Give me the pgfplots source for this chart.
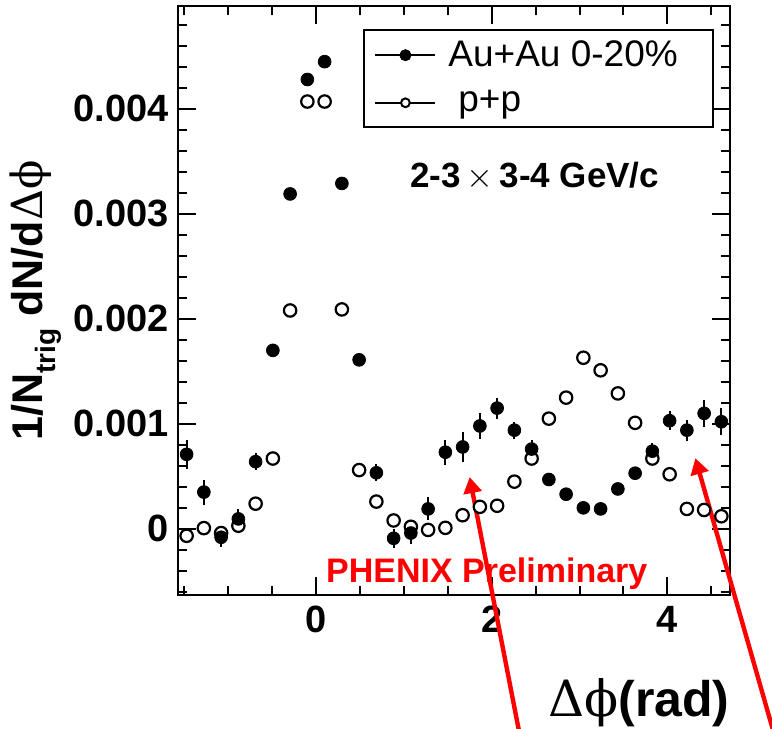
\documentclass[border=0pt]{standalone}
\usepackage{fontspec}
\setmainfont{Liberation Sans}
\newfontfamily\symf{DejaVu Serif}
\usepackage{pgfplots}
\usepackage{pgfplotstable}
\pgfplotsset{compat=1.18}
\usetikzlibrary{arrows.meta,calc}

\pgfplotstableread{
x y e
-1.4726 0.00071 0.00014
-1.2763 0.00035 0.00012
-1.0799 -0.00008 0.00009
-0.8836 0.000095 0.00009
-0.6872 0.00064 0.00008
-0.4909 0.00170 0.00005
-0.2945 0.00319 0.00004
-0.0982 0.00428 0.00004
0.0982 0.00445 0.00004
0.2945 0.00329 0.00004
0.4909 0.00161 0.00005
0.6872 0.000534 0.00008
0.8836 -0.00009 0.00009
1.0799 -0.00004 0.00010
1.2763 0.00019 0.00011
1.4726 0.00073 0.00012
1.6690 0.00078 0.00014
1.8653 0.00098 0.00012
2.0617 0.00115 0.00010
2.2580 0.00094 0.00008
2.4544 0.00076 0.00009
2.6507 0.00047 0.00006
2.8471 0.00033 0.00006
3.0434 0.00020 0.00005
3.2398 0.00019 0.00005
3.4361 0.00038 0.00006
3.6325 0.00053 0.00006
3.8288 0.00074 0.00008
4.0252 0.00103 0.00009
4.2215 0.00094 0.00010
4.4179 0.00110 0.00013
4.6142 0.00102 0.00013
}\auau

\pgfplotstableread{
x y e
-1.4726 -0.000066 0.00002
-1.2763 0.000007 0.00002
-1.0799 -0.00004 0.00002
-0.8836 0.00003 0.00002
-0.6872 0.00024 0.00002
-0.4909 0.00067 0.00002
-0.2945 0.00208 0.00003
-0.0982 0.00407 0.00004
0.0982 0.00407 0.00004
0.2945 0.00209 0.00003
0.4909 0.00056 0.00002
0.6872 0.00026 0.00002
0.8836 0.00008 0.00002
1.0799 0.00002 0.00002
1.2763 -0.00001 0.00002
1.4726 0.00001 0.00002
1.6690 0.00013 0.00002
1.8653 0.00021 0.00002
2.0617 0.00022 0.00002
2.2580 0.00045 0.00002
2.4544 0.00067 0.00002
2.6507 0.00105 0.00002
2.8471 0.00125 0.00002
3.0434 0.00163 0.00002
3.2398 0.00151 0.00002
3.4361 0.00129 0.00002
3.6325 0.00101 0.00002
3.8288 0.00067 0.00002
4.0252 0.00052 0.00002
4.2215 0.00019 0.00002
4.4179 0.00018 0.00002
4.6142 0.00012 0.00002
}\pp

\begin{document}
\begin{tikzpicture}
\begin{axis}[
  scale only axis, width=276pt, height=294.5pt,
  xmin=-1.5708, xmax=4.7124, ymin=-0.00063, ymax=0.00498,
  clip=false,
  axis line style={line width=1pt},
  xtick={0,2,4}, minor xtick={-1.5,-1,-0.5,0.5,1,1.5,2.5,3,3.5,4.5},
  ytick={0,0.001,0.002,0.003,0.004},
  minor ytick={-0.0006,-0.0004,-0.0002,0.0002,0.0004,0.0006,0.0008,0.0012,0.0014,0.0016,0.0018,0.0022,0.0024,0.0026,0.0028,0.0032,0.0034,0.0036,0.0038,0.0042,0.0044,0.0046,0.0048},
  major tick length=9pt, minor tick length=4.5pt,
  every tick/.style={black, line width=1pt},
  tick align=inside,
  ticklabel style={font=\bfseries\fontsize{19}{22}\selectfont},
  /pgf/number format/assume math mode=true,
  yticklabel style={/pgf/number format/fixed, /pgf/number format/precision=3, xshift=-1pt},
  xticklabel style={yshift=-2pt},
  scaled y ticks=false,
  xlabel={\fontsize{25}{28}\selectfont{\symf Δϕ}\bfseries(rad)},
  xlabel style={at={(rel axis cs:1,0)}, anchor=base east, yshift=-60.5pt, inner sep=0pt},
  ylabel={\bfseries\fontsize{21.5}{24}\selectfont 1/N\raisebox{-0.3em}{\fontsize{14}{16}\selectfont trig} dN/d{\mdseries\symf Δϕ}},
  ylabel style={at={($(rel axis cs:0,0.5)+(-71pt,0)$)}, anchor=center, inner sep=0pt},
  legend style={at={(rel axis cs:0.337,0.962)}, anchor=north west, draw=none, fill=none,
    font=\fontsize{18.5}{22}\selectfont, inner xsep=5pt, inner ysep=4pt, row sep=6.5pt},
  legend cell align=left,
]
\coordinate (SW) at (rel axis cs:0,0);
\draw[black, line width=1pt] (rel axis cs:0.337,0.959) rectangle (rel axis cs:0.969,0.7946);
\addlegendimage{legend image code/.code={\draw[black,line width=1pt] (0pt,0pt) -- (30pt,0pt); \fill[black] (15pt,0pt) circle (2.8pt);}}
\addlegendentry{\hspace{4pt}Au+Au 0-20\%}
\addlegendimage{legend image code/.code={\draw[black,line width=1pt] (0pt,0pt) -- (13pt,0pt) (17.5pt,0pt) -- (30pt,0pt); \draw[black,line width=1pt] (15pt,0pt) circle (2.2pt);}}
\addlegendentry{\hspace{9pt}p+p}

\addplot[forget plot, only marks, black, mark=*, mark size=3.1pt,
  mark options={fill=white, draw=black, line width=1.1pt},
  error bars/.cd, y dir=both, y explicit, error mark=none, error bar style={line width=1pt}]
  table[x=x, y=y, y error=e]{\pp};
\addplot[forget plot, only marks, black, mark=*, mark size=3.2pt,
  error bars/.cd, y dir=both, y explicit, error mark=none, error bar style={line width=1pt}]
  table[x=x, y=y, y error=e]{\auau};

\node[font=\bfseries\fontsize{17.5}{20}\selectfont] at (axis cs:2.49,0.003355) {2-3\,{\mdseries$\times$}\,3-4 GeV/c};
\node[font=\bfseries\fontsize{17}{20}\selectfont, text=red] at (axis cs:1.944,-0.000427) {PHENIX Preliminary};
\draw[red, line width=2.2pt, -{Triangle[length=8pt,width=9pt]}] (axis cs:2.321,-0.00197) -- (axis cs:1.749,0.000493);
\draw[red, line width=2.2pt, -{Triangle[length=8pt,width=9pt]}] (axis cs:5.22,-0.00197) -- (axis cs:4.318,0.000673);
\end{axis}
\pgfresetboundingbox
\path (SW) ++(-89pt,-67pt) rectangle ++(386pt,364.5pt);
\end{tikzpicture}
\end{document}
